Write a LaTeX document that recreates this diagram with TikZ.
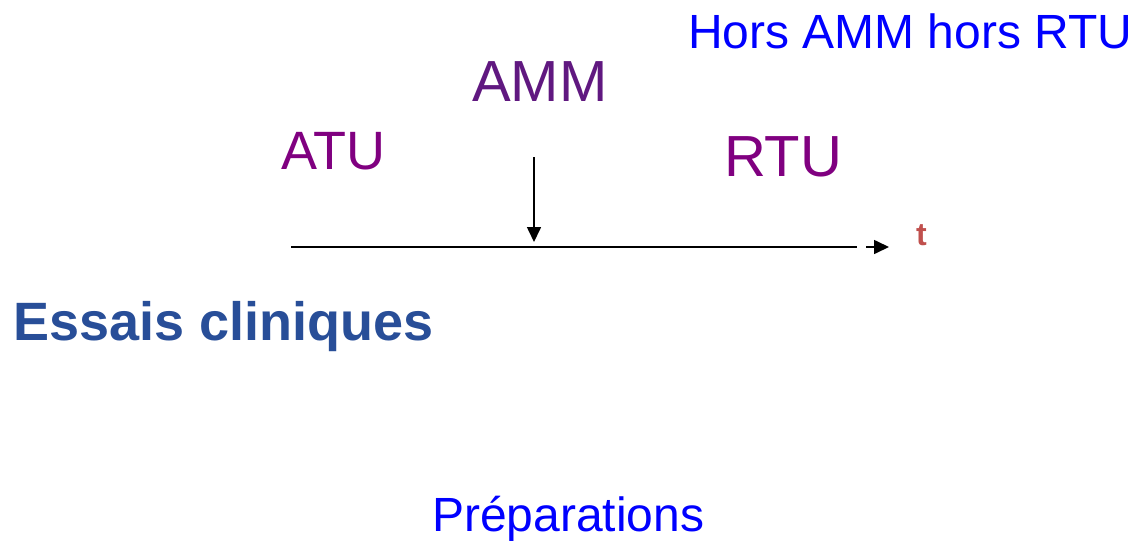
\documentclass[tikz,border=0pt]{standalone}
\usepackage{fontspec}
\setmainfont{Liberation Sans}
\usetikzlibrary{arrows.meta}
\definecolor{txtblue}{RGB}{0,0,255}
\definecolor{ammpurple}{RGB}{96,24,128}
\definecolor{purp}{RGB}{128,0,128}
\definecolor{tred}{RGB}{192,80,77}
\definecolor{essblue}{RGB}{40,78,152}
\begin{document}
\begin{tikzpicture}[x=1pt,y=-1pt,
  lbl/.style={anchor=base west,inner sep=0pt,outer sep=0pt},
  axis/.style={line width=1.6pt},
  arr/.style={line width=1.6pt,-{Triangle[length=15pt,width=14pt]}}]
\useasboundingbox (0,0) rectangle (1139,541);
\node[lbl,text=txtblue,font=\fontsize{48}{50}\selectfont] (hors) at (688,48) {Hors AMM hors RTU};
\node[lbl,text=ammpurple,font=\fontsize{58}{60}\selectfont] (amm) at (472,101) {AMM};
\node[lbl,text=purp,font=\fontsize{54}{56}\selectfont] (atu) at (281,169) {ATU};
\node[lbl,text=purp,font=\fontsize{58}{60}\selectfont] (rtu) at (724,176) {RTU};
\node[lbl,text=tred,font=\bfseries\fontsize{32}{34}\selectfont] (t) at (916,245) {t};
\node[lbl,text=essblue,font=\bfseries\fontsize{54}{56}\selectfont] (ess) at (13,340) {Essais cliniques};
\node[lbl,text=txtblue,font=\fontsize{48}{50}\selectfont] (prep) at (432,531) {Préparations};
\coordinate (a0) at (291,247);
\coordinate (a1) at (857,247);
\coordinate (b0) at (866,247);
\coordinate (b1) at (889,247);
\coordinate (m0) at (534,157);
\coordinate (m1) at (534,242);
\draw[axis] (a0) -- (a1);
\draw[arr] (b0) -- (b1);
\draw[arr] (m0) -- (m1);
\end{tikzpicture}
\end{document}
